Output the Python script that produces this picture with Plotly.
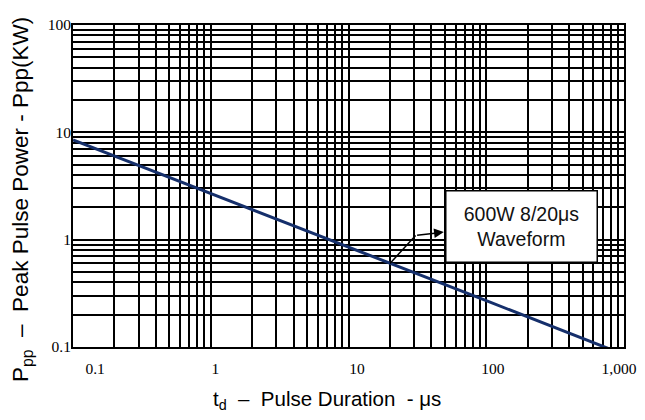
import plotly.graph_objects as go
import math

# Data
duration_us = [0.1, 1, 10, 20, 100, 800]
peak_power_kw = [8.5, 2.7, 0.85, 0.60, 0.27, 0.095]

NB = "\u00a0"
x_label_map = {0.1: NB * 14 + "0.1", 1: NB * 5 + "1", 10: NB * 7 + "10", 100: NB * 6 + "100", 1000: "1,000"}
x_tick_vals = [m * 10 ** e for e in range(-1, 3) for m in range(1, 10)] + [1000]
x_tick_text = [x_label_map.get(v, "") for v in x_tick_vals]
y_label_map = {0.1: "0.1", 1: "1", 10: "10", 100: "100"}
y_tick_vals = [m * 10 ** e for e in range(-1, 2) for m in range(1, 10)] + [100]
y_tick_text = [y_label_map.get(v, "") for v in y_tick_vals]

# annotation pointer points (data values)
arrow_start = (20, 0.60)
arrow_bend = (30.7, 1.096)
arrow_tip = (49.2, 1.176)
label_center = (181.3, 1.32)
label_text = "600W 8/20μs<br>Waveform"

fig = go.Figure()
fig.add_trace(go.Scatter(x=duration_us, y=peak_power_kw, mode="lines",
                         line=dict(color="#152f6b", width=3), showlegend=False,
                         hoverinfo="skip"))
fig.add_trace(go.Scatter(x=[arrow_start[0], arrow_bend[0]], y=[arrow_start[1], arrow_bend[1]],
                         mode="lines", line=dict(color="black", width=1.5),
                         showlegend=False, hoverinfo="skip"))

fig.add_annotation(x=math.log10(arrow_tip[0]), y=math.log10(arrow_tip[1]),
                   ax=math.log10(arrow_bend[0]), ay=math.log10(arrow_bend[1]),
                   xref="x", yref="y", axref="x", ayref="y", text="",
                   showarrow=True, arrowhead=2, arrowsize=1.3, arrowwidth=1.5,
                   arrowcolor="black")
fig.add_annotation(x=math.log10(label_center[0]), y=math.log10(label_center[1]),
                   xref="x", yref="y", text=label_text, showarrow=False,
                   font=dict(family="Liberation Sans, Arial", size=19.5, color="#111"),
                   bgcolor="white", bordercolor="black", borderwidth=1.5,
                   width=148, height=68, borderpad=1, align="center")

# plot area on the page: x 73..624, y 24.5..347.5
fig.add_annotation(x=(327 - 73) / 551, y=(347.5 - 401) / 323, xref="paper", yref="paper",
                   text="t<sub>d</sub>" + NB * 2 + "–" + NB + " Pulse Duration" + NB * 2 + "- μs",
                   showarrow=False, xanchor="center", yanchor="middle",
                   font=dict(family="Liberation Sans, Arial", size=20.5, color="black"))
fig.add_annotation(x=(22 - 73) / 551, y=(347.5 - 200) / 323, xref="paper", yref="paper",
                   text="P<sub>pp</sub>" + NB * 2 + "–" + NB * 2 + "Peak Pulse Power - Ppp(KW)",
                   textangle=-90, showarrow=False, xanchor="center", yanchor="middle",
                   font=dict(family="Liberation Sans, Arial", size=22.5, color="black"))

axis_common = dict(type="log", showgrid=True, gridcolor="black", gridwidth=1.6,
                   showline=True, linecolor="black", linewidth=2, mirror=True,
                   ticks="", zeroline=False, ticklabeloverflow="allow", automargin=False,
                   tickfont=dict(family="Liberation Serif, Times New Roman", size=15.5, color="black"))
fig.update_xaxes(range=[-1, 3], tickmode="array", tickvals=x_tick_vals, ticktext=x_tick_text,
                 ticklabelstandoff=6, ticklabelshift=-5, **axis_common)
fig.update_yaxes(range=[-1, 2], tickmode="array", tickvals=y_tick_vals, ticktext=y_tick_text,
                 ticklabelstandoff=-3, **axis_common)

fig.update_layout(width=629, height=404, margin=dict(l=65, r=13, t=16.5, b=64.5),
                  plot_bgcolor="white", paper_bgcolor="white")

fig.write_html("out.html")
